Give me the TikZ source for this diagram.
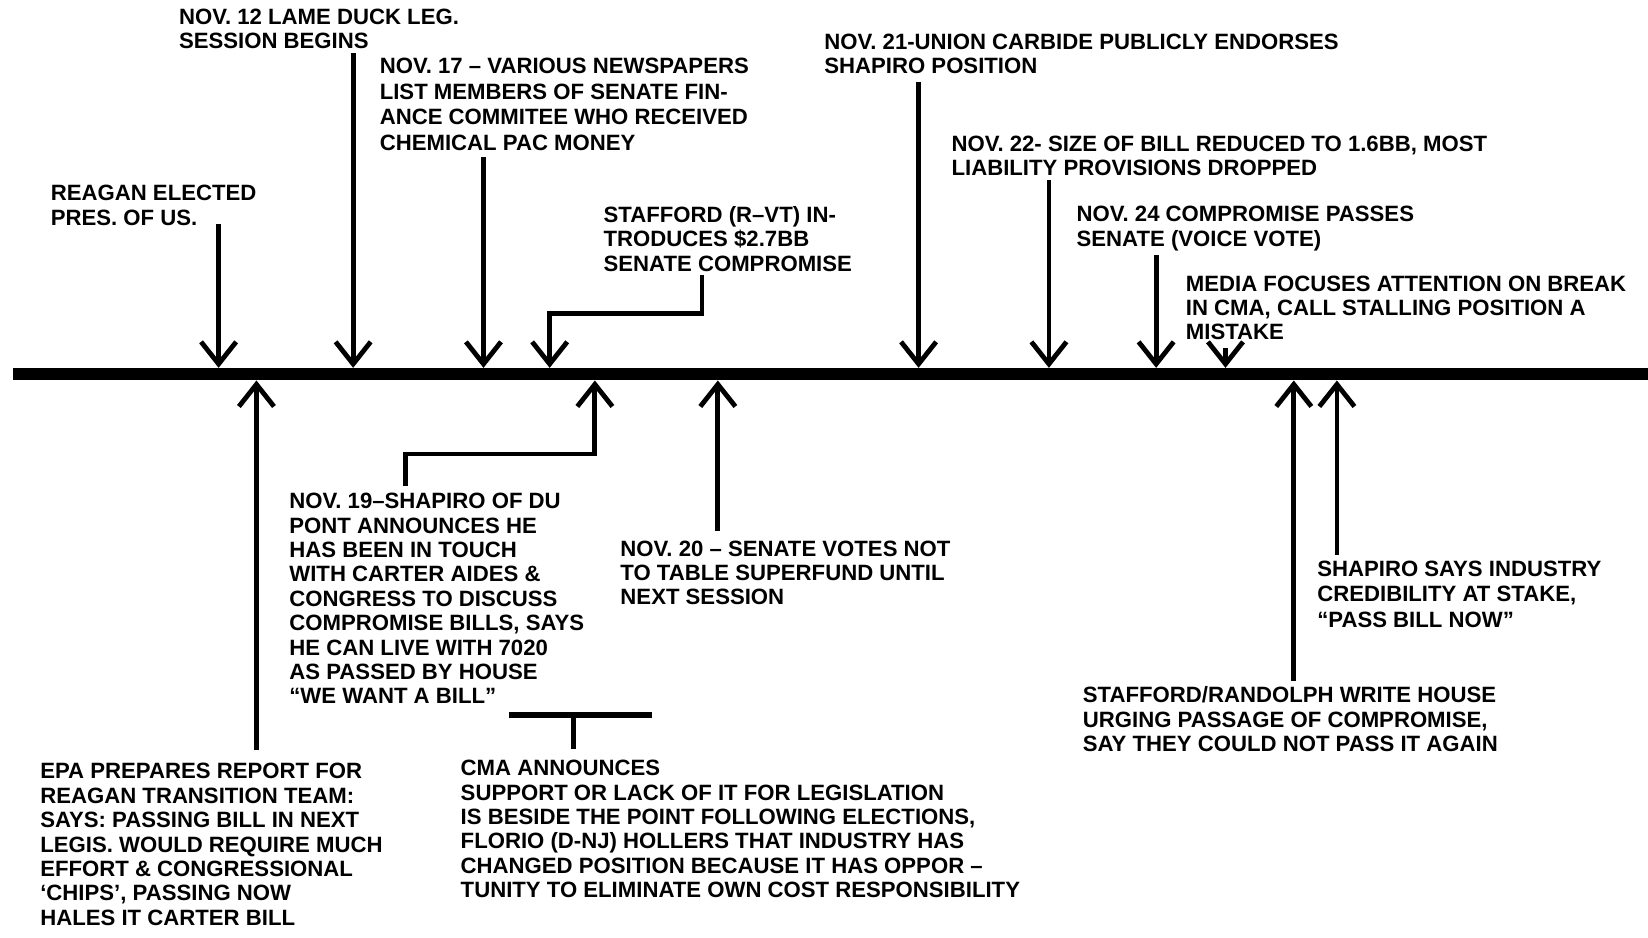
\documentclass[tikz,border=0pt]{standalone}
\usepackage{fontspec}
\setmainfont{Liberation Sans}
\usepackage{tikz}
\usetikzlibrary{positioning,arrows.meta}
\definecolor{ink}{HTML}{000000}
\tikzset{
  event/.style={
    anchor=north west, inner sep=0pt, align=left, text=ink,
    font=\bfseries\fontsize{12}{13.2}\selectfont},
  loose/.style={font=\bfseries\fontsize{12}{13.9}\selectfont},
  axis/.style={draw=ink, line width=6.8pt},
  pointer/.style={draw=ink, line width=2.6pt,
    -{Straight Barb[length=12pt,width=19pt]}},
  tee/.style={draw=ink, line width=2.6pt},
}

\begin{document}
\begin{tikzpicture}[x=0.02cm, y=-0.02cm]
  \useasboundingbox (0,0) rectangle (1568,892);

  % the time axis
  \coordinate (tl-l) at (12,356);
  \coordinate (tl-r) at (1568,356);
  \draw[axis] (tl-l) -- (tl-r);

  % tips on the axis, above and below
  \coordinate (t1) at (208,350);
  \coordinate (t2) at (336,350);
  \coordinate (t3) at (460,350);
  \coordinate (t4) at (523,350);
  \coordinate (t5) at (874,350);
  \coordinate (t6) at (998,350);
  \coordinate (t7) at (1100,350);
  \coordinate (t8) at (1166,350);
  \coordinate (b1) at (244,362);
  \coordinate (b2) at (566,362);
  \coordinate (b3) at (683,362);
  \coordinate (b4) at (1231,362);
  \coordinate (b5) at (1272,362);
  \coordinate (k4) at (668,298);
  \coordinate (k10) at (386,432);
  \coordinate (tbar) at (546,680);

  % events above the axis
  \node[event] (reagan) at (48,176) {REAGAN ELECTED\\PRES. OF US.};
  \node[event] (lameduck) at (170,8) {NOV. 12 LAME DUCK LEG.\\SESSION BEGINS};
  \node[event, loose] (papers) at (361,55)
    {NOV. 17 -- VARIOUS NEWSPAPERS\\LIST MEMBERS OF SENATE FIN-\\
     ANCE COMMITEE WHO RECEIVED\\CHEMICAL PAC MONEY};
  \node[event] (stafford) at (574,196)
    {STAFFORD (R--VT) IN-\\TRODUCES \$2.7BB\\SENATE COMPROMISE};
  \node[event] (carbide) at (784,32)
    {NOV. 21-UNION CARBIDE PUBLICLY ENDORSES\\SHAPIRO POSITION};
  \node[event] (reduced) at (905,129)
    {NOV. 22- SIZE OF BILL REDUCED TO 1.6BB, MOST\\LIABILITY PROVISIONS DROPPED};
  \node[event] (passes) at (1024,196)
    {NOV. 24 COMPROMISE PASSES\\SENATE (VOICE VOTE)};
  \node[event] (media) at (1128,262)
    {MEDIA FOCUSES ATTENTION ON BREAK\\IN CMA, CALL STALLING POSITION A\\MISTAKE};

  % events below the axis
  \node[event] (epa) at (38,726)
    {EPA PREPARES REPORT FOR\\REAGAN TRANSITION TEAM:\\SAYS: PASSING BILL IN NEXT\\
     LEGIS. WOULD REQUIRE MUCH\\EFFORT \& CONGRESSIONAL\\`CHIPS', PASSING NOW\\
     HALES IT CARTER BILL};
  \node[event] (shapiro) at (275,469)
    {NOV. 19--SHAPIRO OF DU\\PONT ANNOUNCES HE\\HAS BEEN IN TOUCH\\
     WITH CARTER AIDES \&\\CONGRESS TO DISCUSS\\COMPROMISE BILLS, SAYS\\
     HE CAN LIVE WITH 7020\\AS PASSED BY HOUSE\\``WE WANT A BILL''};
  \node[event] (table) at (590,514)
    {NOV. 20 -- SENATE VOTES NOT\\TO TABLE SUPERFUND UNTIL\\NEXT SESSION};
  \node[event] (cma) at (438,723)
    {CMA ANNOUNCES\\SUPPORT OR LACK OF IT FOR LEGISLATION\\
     IS BESIDE THE POINT FOLLOWING ELECTIONS,\\
     FLORIO (D-NJ) HOLLERS THAT INDUSTRY HAS\\
     CHANGED POSITION BECAUSE IT HAS OPPOR --\\
     TUNITY TO ELIMINATE OWN COST RESPONSIBILITY};
  \node[event] (letter) at (1030,653)
    {STAFFORD/RANDOLPH WRITE HOUSE\\URGING PASSAGE OF COMPROMISE,\\
     SAY THEY COULD NOT PASS IT AGAIN};
  \node[event, loose] (credib) at (1253,533)
    {SHAPIRO SAYS INDUSTRY\\CREDIBILITY AT STAKE,\\``PASS BILL NOW''};

  % pointers down onto the axis
  \draw[pointer] ([yshift=1pt]reagan.south -| t1) -- (t1);
  \draw[pointer] ([yshift=-2pt]lameduck.south -| t2) -- (t2);
  \draw[pointer] ([yshift=-3pt]papers.south -| t3) -- (t3);
  \draw[pointer] ([yshift=-2pt]stafford.south -| k4) -- (k4) -| (t4);
  \draw[pointer] ([yshift=-4pt]carbide.south -| t5) -- (t5);
  \draw[pointer] ([yshift=-2pt]reduced.south -| t6) -- (t6);
  \draw[pointer] ([yshift=-2pt]passes.south -| t7) -- (t7);
  \draw[pointer] ([yshift=-4pt]media.south -| t8) -- (t8);

  % pointers up onto the axis
  \draw[pointer] ([yshift=7pt]epa.north -| b1) -- (b1);
  \draw[pointer] ([yshift=4pt]shapiro.north -| k10) -- (k10) -| (b2);
  \draw[pointer] ([yshift=5pt]table.north -| b3) -- (b3);
  \draw[pointer] ([yshift=3pt]letter.north -| b4) -- (b4);
  \draw[pointer] ([yshift=3pt]credib.north -| b5) -- (b5);

  % CMA bracket
  \draw[tee] ([yshift=6pt]cma.north -| tbar) -- (tbar);
  \draw[tee, line width=3.2pt] (tbar) ++(-62,0) -- ++(136,0);

\end{tikzpicture}
\end{document}
